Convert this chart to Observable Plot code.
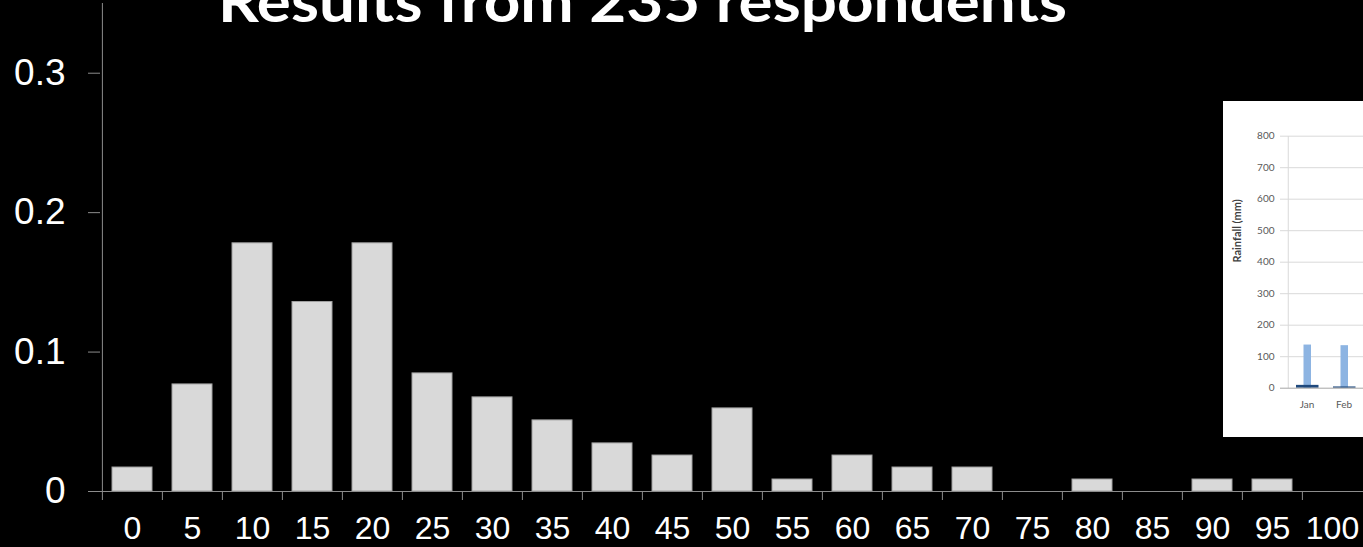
<!DOCTYPE html>
<html><head><meta charset="utf-8">
<script src="https://cdn.jsdelivr.net/npm/d3@7"></script>
<script src="https://cdn.jsdelivr.net/npm/@observablehq/plot@0.6"></script>
<style>
html,body{margin:0;padding:0;background:#000;overflow:hidden;}
#wrap{position:relative;width:1363px;height:547px;overflow:hidden;}
#main svg{display:block;}
#inset{position:absolute;left:1223px;top:101px;width:140px;height:336px;background:#fff;overflow:hidden;}
#inset svg{display:block;max-width:none !important;}
</style></head><body><div id="wrap"><div id="main"></div><div id="inset"></div></div>
<script>
// ---- data ----
const title = "Results from 235 respondents";
const categories = [0, 5, 10, 15, 20, 25, 30, 35, 40, 45, 50, 55, 60, 65, 70, 75, 80, 85, 90, 95, 100];
const shares = [0.0172, 0.0768, 0.178, 0.1359, 0.178, 0.0847, 0.0675, 0.051, 0.0345, 0.0258, 0.0596, 0.0086, 0.0258, 0.0172, 0.0172, 0, 0.0086, 0, 0.0086, 0.0086, 0];
const yTicks = [0, 0.1, 0.2, 0.3];
const yTickLabels = ["0", "0.1", "0.2", "0.3"];

// inset (embedded rainfall chart, partly visible)
const insetMonths = ["Jan", "Feb"];
const insetLight = [137, 135];
const insetDark = [9, 4];
const insetYTicks = [0, 100, 200, 300, 400, 500, 600, 700, 800];
const insetYLabel = "Rainfall (mm)";

// ---- main chart ----
const xRange = [100.4, 1364.7];
const step = (xRange[1] - xRange[0]) / categories.length;
const data = categories.map((c, i) => ({cat: c, share: shares[i]}));
const axisGrey = "#8c8c8c";

const chart = Plot.plot({
  width: 1363, height: 547,
  marginLeft: 100, marginRight: 0, marginTop: 3, marginBottom: 56,
  style: {background: "#000", color: "#fff", fontFamily: "'Liberation Sans', Arial, sans-serif", overflow: "hidden", maxWidth: "none"},
  x: {type: "band", domain: categories, range: xRange, paddingInner: 0.33, paddingOuter: 0.165, align: 0.5},
  y: {domain: [0, 0.35], range: [491, 3]},
  marks: [
    Plot.barY(data, {x: "cat", y: "share", fill: "#d9d9d9", stroke: "#a0a0a0", strokeWidth: 1}),
    Plot.ruleX([categories[0]], {dx: -step / 2, stroke: axisGrey}),
    Plot.axisY({ticks: yTicks, tickFormat: d => yTickLabels[yTicks.indexOf(d)], tickSize: 12, tickPadding: 23,
                stroke: axisGrey, fill: "#fff", fontSize: 37, label: null}),
    Plot.axisX({tickSize: 0, tickPadding: 25, fontSize: 32, fill: "#fff", label: null}),
    Plot.axisX({tickSize: 9, tickFormat: () => "", dx: -step / 2, stroke: axisGrey, label: null}),
    Plot.ruleY([0], {stroke: axisGrey})
  ]
});
d3.select(chart).append("text")
  .attr("x", 218).attr("y", 22)
  .attr("text-anchor", "start")
  .attr("fill", "#fff")
  .attr("font-family", "Lato, 'Open Sans', sans-serif")
  .attr("font-weight", 700)
  .attr("font-size", 58)
  .attr("textLength", 849)
  .attr("lengthAdjust", "spacingAndGlyphs")
  .text(title);
document.getElementById("main").appendChild(chart);

// ---- inset chart ----
const insetData = insetMonths.map((m, i) => ({month: m, light: insetLight[i], dark: insetDark[i]}));
const inset = Plot.plot({
  width: 400, height: 336,
  marginLeft: 64, marginRight: 0, marginTop: 35, marginBottom: 49,
  style: {background: "#fff", color: "#595959", fontFamily: "Lato, 'Open Sans', sans-serif", overflow: "hidden", maxWidth: "none"},
  x: {type: "band", domain: insetMonths, range: [64, 139], padding: 0},
  y: {domain: [0, 800], range: [286.7, 34.7]},
  marks: [
    Plot.ruleY(insetYTicks.slice(1), {stroke: "#d9d9d9", insetLeft: -7}),
    Plot.ruleX([insetMonths[0]], {dx: -37.5 / 2, stroke: "#d9d9d9"}),
    Plot.axisY({ticks: insetYTicks, tickSize: 0, tickPadding: 13, fontSize: 10, fill: "#595959", label: null}),
    Plot.barY(insetData, {x: "month", y: "light", fill: "#8db4e2", insetLeft: 15.5, insetRight: 14}),
    Plot.barY(insetData, {x: "month", y: "dark", fill: "#1f497d", insetLeft: 8, insetRight: 6.5}),
    Plot.ruleY([0], {stroke: "#a6a6a6", insetLeft: -7}),
    Plot.axisX({tickSize: 0, tickPadding: 12, fontSize: 10, fill: "#595959", label: null}),
    Plot.text([insetYLabel], {frameAnchor: "left", rotate: -90, dx: -50, fontWeight: "bold", fontSize: 11, fill: "#404040"})
  ]
});
document.getElementById("inset").appendChild(inset);
</script>
</body></html>
